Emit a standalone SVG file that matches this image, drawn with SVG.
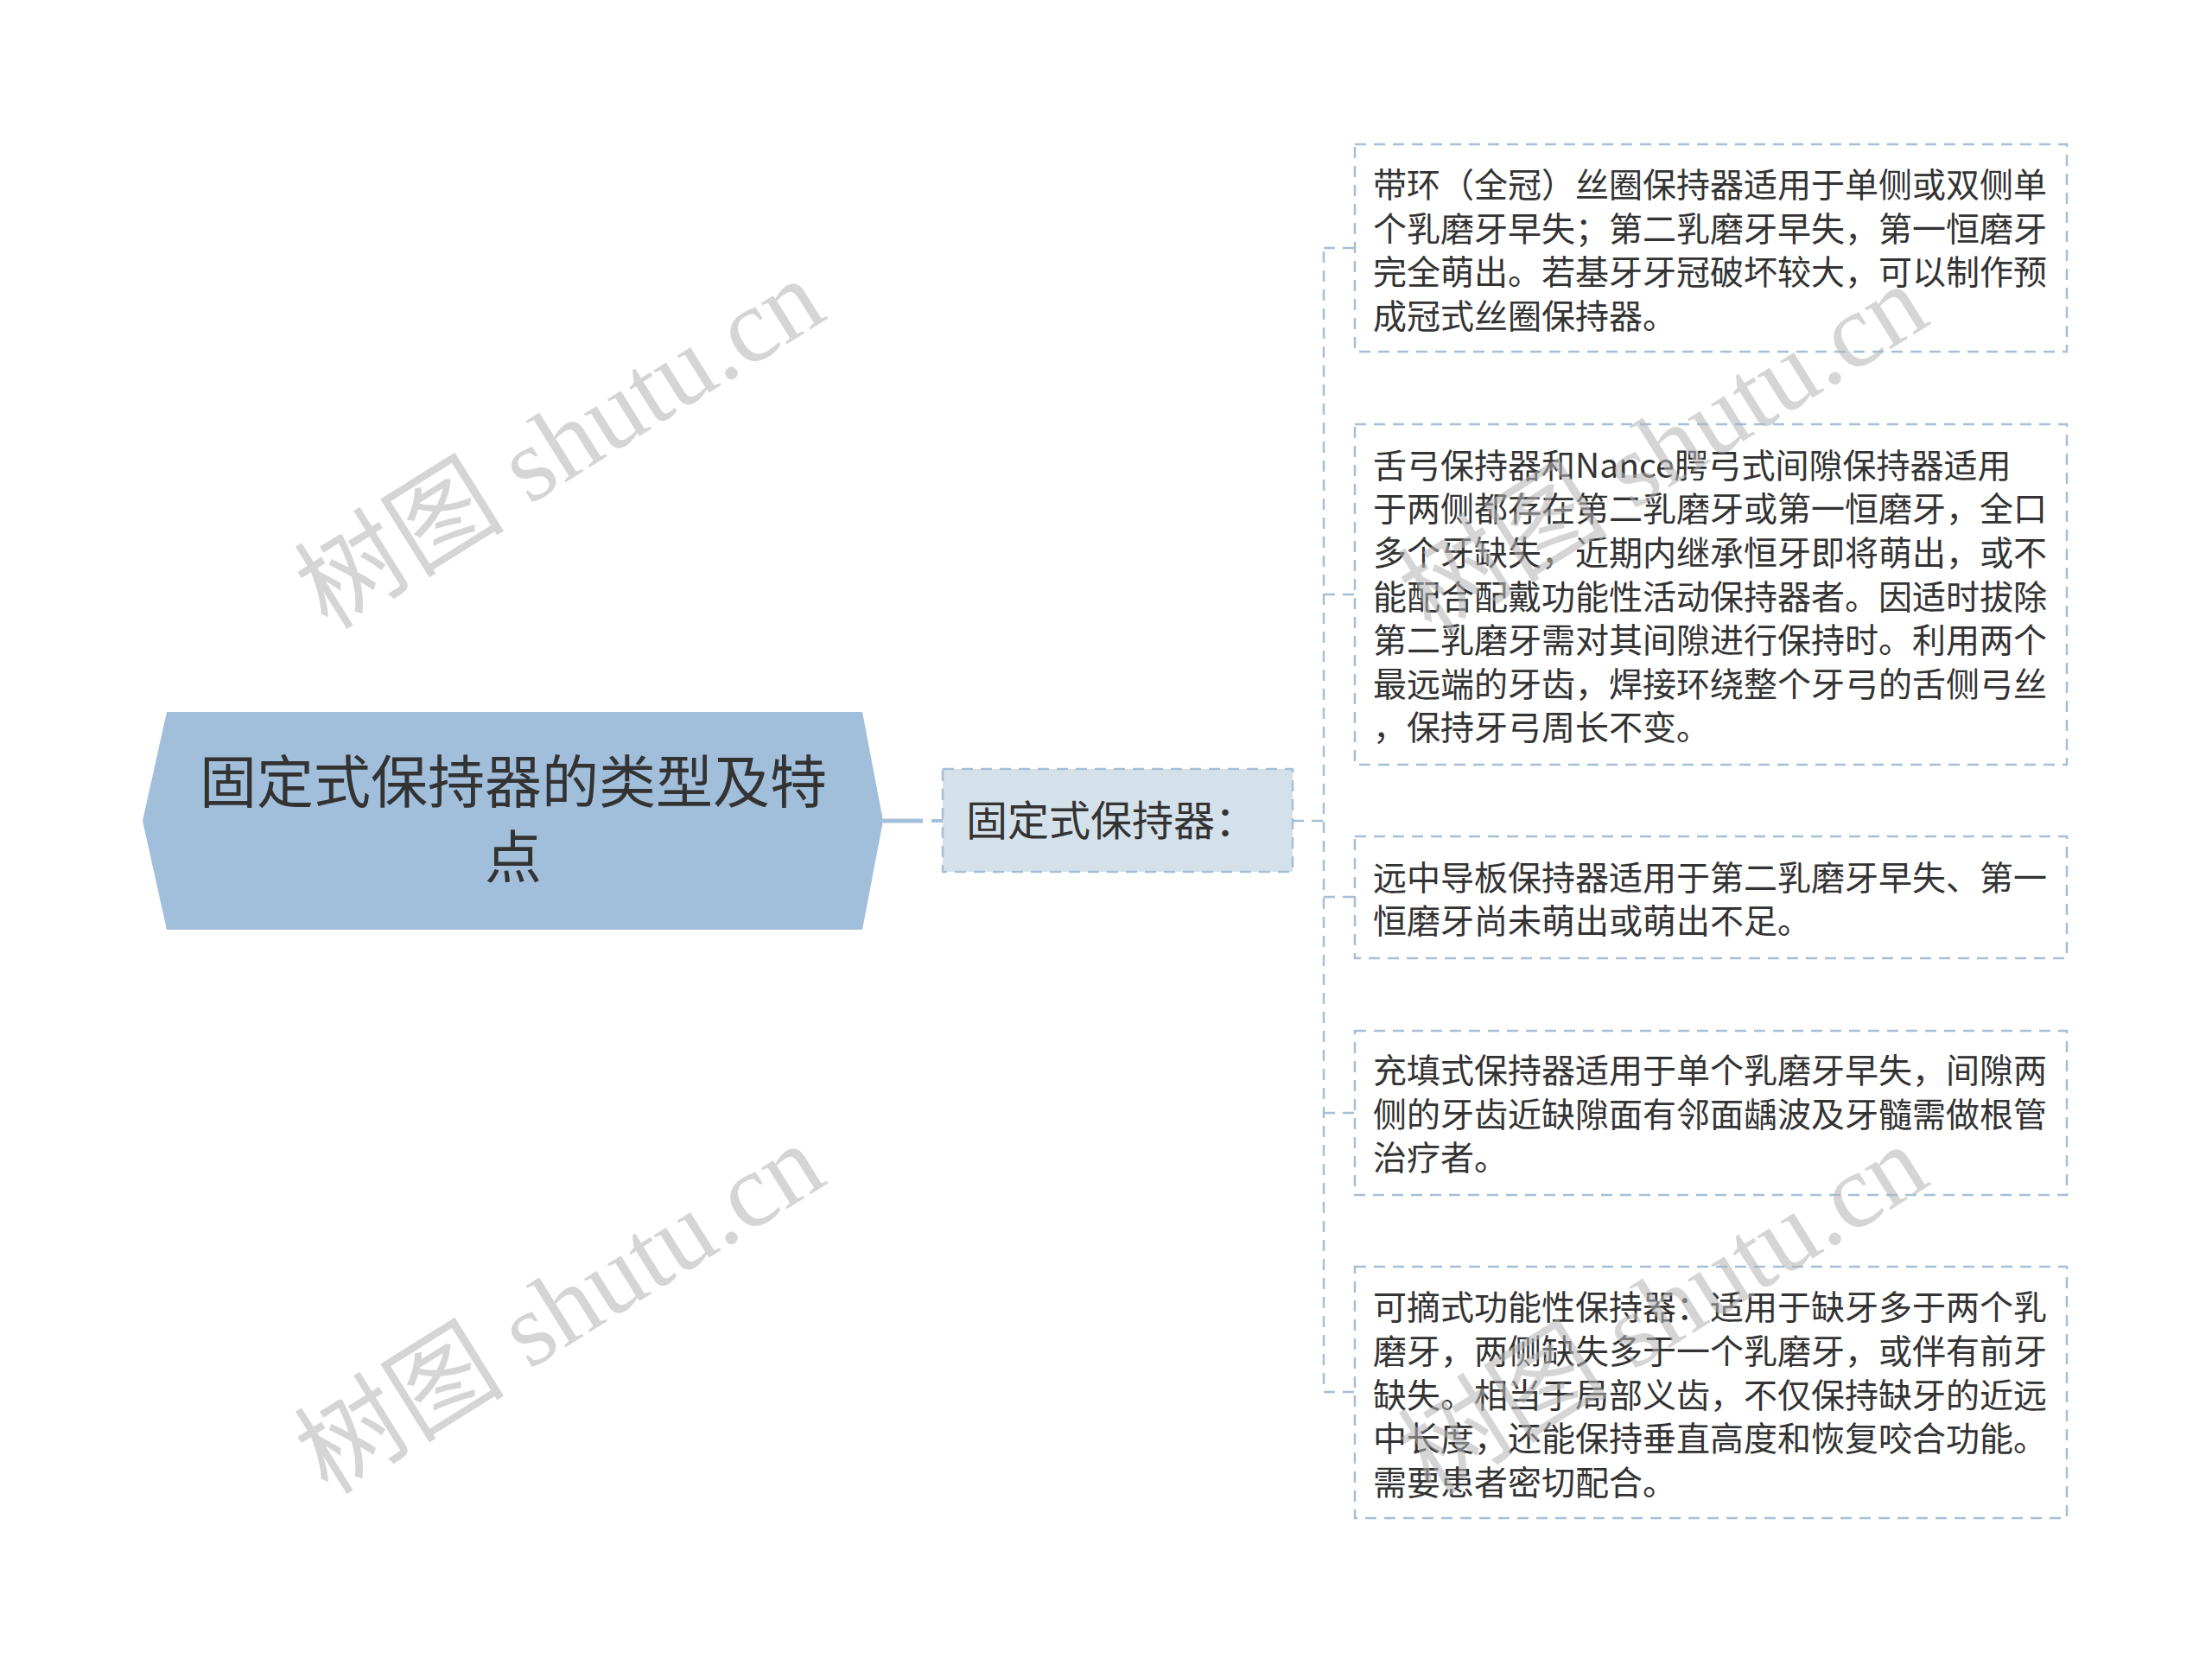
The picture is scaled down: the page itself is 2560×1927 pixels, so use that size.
<svg xmlns="http://www.w3.org/2000/svg" width="2560" height="1927" viewBox="0 0 2560 1927">
<style>
.leaf{fill:#ffffff;stroke:#a7bfd6;stroke-width:2.5;stroke-dasharray:13 9}
.lt{font-family:"Noto Sans CJK SC","Noto Sans",sans-serif;font-size:39px;fill:#333333}
.conn{fill:none;stroke:#a7bfd6;stroke-width:2.5;stroke-dasharray:13 9}
.wm{font-family:"Liberation Serif","Noto Sans CJK SC",serif;font-size:122px;fill:#b4b4b4;opacity:0.55}
</style>
<rect width="2560" height="1927" fill="#ffffff"/>
<g id="connectors">
<line x1="1022" y1="950" x2="1068" y2="950" stroke="#a3c0da" stroke-width="5"/>
<line x1="1078" y1="950" x2="1091" y2="950" stroke="#a3c0da" stroke-width="4"/>
<path class="conn" d="M1496 950 H1532"/>
<path class="conn" d="M1532 291 V1611"/>
<path class="conn" d="M1532 287 H1568 M1532 688 H1568 M1532 1038 H1568 M1532 1288 H1568 M1532 1611 H1568"/>
</g>
<g id="root">
<polygon points="165,950 193,824 998,824 1022,950 998,1076 193,1076" fill="#a1bfdb"/>
<text x="594" y="929" text-anchor="middle" font-family="Noto Sans CJK SC,sans-serif" font-size="66" fill="#333333">固定式保持器的类型及特</text>
<text x="594" y="1016" text-anchor="middle" font-family="Noto Sans CJK SC,sans-serif" font-size="66" fill="#333333">点</text>
</g>
<g id="mid">
<rect x="1091" y="890" width="405" height="119" fill="#d5e1ea" stroke="#a7bfd6" stroke-width="2.5" stroke-dasharray="13 9"/>
<text x="1118" y="967" font-family="Noto Sans CJK SC,sans-serif" font-size="48" fill="#333333">固定式保持器：</text>
</g>
<g id="leaf1">
<rect class="leaf" x="1568" y="167" width="824" height="240"/>
<text class="lt" x="1589" y="228">带环（全冠）丝圈保持器适用于单侧或双侧单</text>
<text class="lt" x="1589" y="279">个乳磨牙早失；第二乳磨牙早失，第一恒磨牙</text>
<text class="lt" x="1589" y="329">完全萌出。若基牙牙冠破坏较大，可以制作预</text>
<text class="lt" x="1589" y="380">成冠式丝圈保持器。</text>
</g>
<g id="leaf2">
<rect class="leaf" x="1568" y="491" width="824" height="394"/>
<text class="lt" x="1589" y="553">舌弓保持器和Nance腭弓式间隙保持器适用</text>
<text class="lt" x="1589" y="603">于两侧都存在第二乳磨牙或第一恒磨牙，全口</text>
<text class="lt" x="1589" y="654">多个牙缺失，近期内继承恒牙即将萌出，或不</text>
<text class="lt" x="1589" y="705">能配合配戴功能性活动保持器者。因适时拔除</text>
<text class="lt" x="1589" y="755">第二乳磨牙需对其间隙进行保持时。利用两个</text>
<text class="lt" x="1589" y="806">最远端的牙齿，焊接环绕整个牙弓的舌侧弓丝</text>
<text class="lt" x="1589" y="856">，保持牙弓周长不变。</text>
</g>
<g id="leaf3">
<rect class="leaf" x="1568" y="968" width="824" height="141"/>
<text class="lt" x="1589" y="1030">远中导板保持器适用于第二乳磨牙早失、第一</text>
<text class="lt" x="1589" y="1080">恒磨牙尚未萌出或萌出不足。</text>
</g>
<g id="leaf4">
<rect class="leaf" x="1568" y="1193" width="824" height="190"/>
<text class="lt" x="1589" y="1253">充填式保持器适用于单个乳磨牙早失，间隙两</text>
<text class="lt" x="1589" y="1304">侧的牙齿近缺隙面有邻面龋波及牙髓需做根管</text>
<text class="lt" x="1589" y="1354">治疗者。</text>
</g>
<g id="leaf5">
<rect class="leaf" x="1568" y="1466" width="824" height="291"/>
<text class="lt" x="1589" y="1527">可摘式功能性保持器：适用于缺牙多于两个乳</text>
<text class="lt" x="1589" y="1578">磨牙，两侧缺失多于一个乳磨牙，或伴有前牙</text>
<text class="lt" x="1589" y="1629">缺失。相当于局部义齿，不仅保持缺牙的近远</text>
<text class="lt" x="1589" y="1679">中长度，还能保持垂直高度和恢复咬合功能。</text>
<text class="lt" x="1589" y="1730">需要患者密切配合。</text>
</g>
<g id="watermarks">
<text class="wm" x="648" y="555" text-anchor="middle" transform="rotate(-32 648 514)">树图 shutu.cn</text>
<text class="wm" x="648" y="1556" text-anchor="middle" transform="rotate(-32 648 1515)">树图 shutu.cn</text>
<text class="wm" x="1925" y="561" text-anchor="middle" transform="rotate(-32 1925 520)">树图 shutu.cn</text>
<text class="wm" x="1925" y="1557" text-anchor="middle" transform="rotate(-32 1925 1516)">树图 shutu.cn</text>
</g>
</svg>
